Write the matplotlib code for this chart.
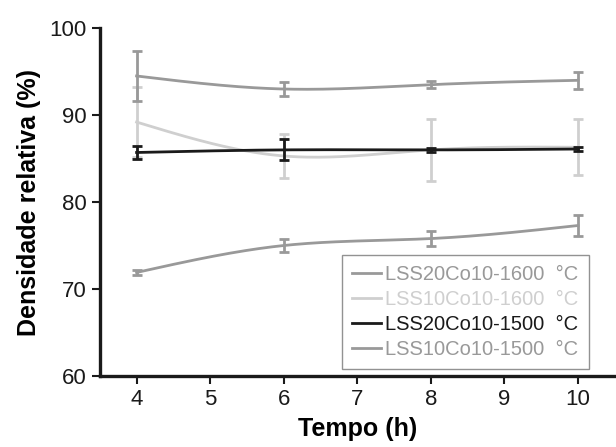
import numpy as np
import matplotlib.pyplot as plt

plt.rcParams['font.family'] = ['Liberation Sans', 'DejaVu Sans']

tempo = [4, 6, 8, 10]
labels = ['LSS20Co10-1600  °C', 'LSS10Co10-1600  °C', 'LSS20Co10-1500  °C', 'LSS10Co10-1500  °C']
colors = ['#999999', '#cfcfcf', '#1a1a1a', '#999999']

dens_20_1600 = [94.5, 93.0, 93.5, 94.0]
err_20_1600 = [2.9, 0.8, 0.4, 1.0]
dens_10_1600 = [89.2, 85.3, 86.0, 86.3]
err_10_1600 = [4.0, 2.5, 3.6, 3.2]
dens_20_1500 = [85.7, 86.0, 86.0, 86.1]
err_20_1500 = [0.7, 1.2, 0.2, 0.2]
dens_10_1500 = [71.9, 75.0, 75.8, 77.3]
err_10_1500 = [0.3, 0.7, 0.9, 1.2]

series = [(dens_20_1600, err_20_1600), (dens_10_1600, err_10_1600),
          (dens_20_1500, err_20_1500), (dens_10_1500, err_10_1500)]


def spline(x, y, n=200):
    # natural cubic spline, just for a smooth line through the points
    x = np.asarray(x, float)
    y = np.asarray(y, float)
    k = len(x)
    h = np.diff(x)
    A = np.zeros((k, k))
    b = np.zeros(k)
    A[0, 0] = A[-1, -1] = 1
    for i in range(1, k - 1):
        A[i, i - 1] = h[i - 1]
        A[i, i] = 2 * (h[i - 1] + h[i])
        A[i, i + 1] = h[i]
        b[i] = 3 * ((y[i + 1] - y[i]) / h[i] - (y[i] - y[i - 1]) / h[i - 1])
    c = np.linalg.solve(A, b)
    xs = np.linspace(x[0], x[-1], n)
    ys = np.empty_like(xs)
    for j, xv in enumerate(xs):
        i = min(np.searchsorted(x, xv, side='right') - 1, k - 2)
        d = xv - x[i]
        bi = (y[i + 1] - y[i]) / h[i] - h[i] * (2 * c[i] + c[i + 1]) / 3
        di = (c[i + 1] - c[i]) / (3 * h[i])
        ys[j] = y[i] + bi * d + c[i] * d ** 2 + di * d ** 3
    return xs, ys


fig = plt.figure(figsize=(6.16, 4.47), dpi=100)
ax = fig.add_axes([0.162, 0.159, 0.836, 0.778])

order = [1, 0, 3, 2]
handles = [None] * 4
for i in order:
    y, e = series[i]
    xs, ys = spline(tempo, y)
    ln, = ax.plot(xs, ys, color=colors[i], lw=2, zorder=2 + (i == 2))
    ax.errorbar(tempo, y, yerr=e, fmt='none', ecolor=colors[i], elinewidth=2,
                capsize=3.5, capthick=2, zorder=2 + (i == 2))
    handles[i] = ln

ax.set_xlim(3.5, 10.5)
ax.set_ylim(60, 100)
ax.set_xticks(range(4, 11))
ax.set_yticks(range(60, 101, 10))
for s in ['top', 'right']:
    ax.spines[s].set_visible(False)
for s in ['left', 'bottom']:
    ax.spines[s].set_linewidth(2.4)
    ax.spines[s].set_color('#1a1a1a')
ax.tick_params(direction='out', length=6, width=1.5, labelsize=16, colors='#1a1a1a')

ax.set_xlabel('Tempo (h)', fontsize=18, fontweight='bold', labelpad=5)
ax.set_ylabel('Densidade relativa (%)', fontsize=18, fontweight='bold', labelpad=6)

leg = ax.legend(handles, labels, loc='lower right', bbox_to_anchor=(0.969, -0.01),
                fontsize=14.5, frameon=True, fancybox=False, handlelength=1.45,
                handletextpad=0.2, labelspacing=0.3, borderpad=0.5,
                labelcolor=colors)
leg.get_frame().set_edgecolor('#777777')
leg.get_frame().set_linewidth(1)

plt.savefig('out.png', dpi=100)
